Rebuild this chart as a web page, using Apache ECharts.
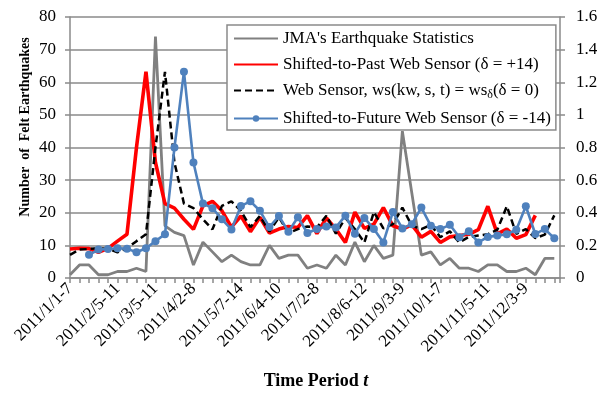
<!DOCTYPE html>
<html>
<head>
<meta charset="utf-8">
<script src="https://cdn.jsdelivr.net/npm/echarts@6/dist/echarts.min.js"></script>
<style>
html,body{margin:0;padding:0;background:#fff;}
#chart{width:607px;height:393px;}
</style>
</head>
<body>
<div id="chart"></div>
<script>
// Weekly periods of 2011
const categories = [
  "2011/1/1-7","2011/1/8-14","2011/1/15-21","2011/1/22-28","2011/1/29-2/4",
  "2011/2/5-11","2011/2/12-18","2011/2/19-25","2011/2/26-3/4",
  "2011/3/5-11","2011/3/12-18","2011/3/19-25","2011/3/26-4/1",
  "2011/4/2-8","2011/4/9-15","2011/4/16-22","2011/4/23-29","2011/4/30-5/6",
  "2011/5/7-14","2011/5/14-20","2011/5/21-27","2011/5/28-6/3",
  "2011/6/4-10","2011/6/11-17","2011/6/18-24","2011/6/25-7/1",
  "2011/7/2-8","2011/7/9-15","2011/7/16-22","2011/7/23-29","2011/7/30-8/5",
  "2011/8/6-12","2011/8/13-19","2011/8/20-26","2011/8/27-9/2",
  "2011/9/3-9","2011/9/10-16","2011/9/17-23","2011/9/24-30",
  "2011/10/1-7","2011/10/8-14","2011/10/15-21","2011/10/22-28","2011/10/29-11/4",
  "2011/11/5-11","2011/11/12-18","2011/11/19-25","2011/11/26-12/2",
  "2011/12/3-9","2011/12/10-16","2011/12/17-23","2011/12/24-30"
];
// categories whose label is printed on the axis
const labelledWeeks = [0,5,9,13,18,22,26,31,35,39,44,48];

// left axis: number of felt earthquakes (JMA)
const jma = [1,4,4,1,1,2,2,3,2,74, 16,14,13,4,11,8,5,7,5,4, 4,10,6,7,7,3,4,3,7,4,
             11,5,10,6,7,45,26,7,8,4, 6,3,3,2,4,4,2,2,3,1, 6,6];

// right axis: web sensor values
const webSensor = [0.142,0.174,0.178,0.182,0.180,0.158,0.182,0.226,0.268,0.800,
                   1.264,0.708,0.456,0.428,0.360,0.298,0.442,0.470,0.412,0.312,
                   0.380,0.284,0.372,0.276,0.300,0.316,0.310,0.382,0.272,0.368,
                   0.300,0.218,0.404,0.304,0.330,0.432,0.320,0.300,0.326,0.250,
                   0.286,0.218,0.252,0.260,0.268,0.296,0.440,0.270,0.300,0.244,
                   0.266,0.384];
const shiftedPast = [0.178,0.182,0.180,0.158,0.182,0.226,0.268,0.800,
                   1.264,0.708,0.456,0.428,0.360,0.298,0.442,0.470,0.412,0.312,
                   0.380,0.284,0.372,0.276,0.300,0.316,0.310,0.382,0.272,0.368,
                   0.300,0.218,0.404,0.304,0.330,0.432,0.320,0.300,0.326,0.250,
                   0.286,0.218,0.252,0.260,0.268,0.296,0.440,0.270,0.300,0.244,
                   0.266,0.384];
const shiftedFuture = [null,null,0.142,0.174,0.178,0.182,0.180,0.158,0.182,0.226,0.268,0.800,
                   1.264,0.708,0.456,0.428,0.360,0.298,0.442,0.470,0.412,0.312,
                   0.380,0.284,0.372,0.276,0.300,0.316,0.310,0.382,0.272,0.368,
                   0.300,0.218,0.404,0.304,0.330,0.432,0.320,0.300,0.326,0.250,
                   0.286,0.218,0.252,0.260,0.268,0.296,0.440,0.270,0.300,0.244];

const names = [
  "JMA's Earthquake Statistics",
  "Shifted-to-Past Web Sensor (\u03b4 = +14)",
  "Web Sensor, ws(kw, s, t) = ws_delta(\u03b4 = 0)",
  "Shifted-to-Future Web Sensor (\u03b4 = -14)"
];

const pairs = arr => arr.map((v, i) => [i, v]);
const FONT = '"Liberation Serif", "Times New Roman", serif';
const GRID = '#8a8a8a';

const chart = echarts.init(document.getElementById('chart'), null, {renderer: 'canvas'});
chart.setOption({
  animation: false,
  backgroundColor: '#fff',
  grid: {left: 70, right: 47, top: 17, bottom: 115},
  xAxis: {
    type: 'value', min: 0, max: 51.6, interval: 1,
    axisLine: {show: true, lineStyle: {color: GRID, width: 1.5}},
    axisTick: {show: true, length: 5, lineStyle: {color: GRID, width: 1.5}},
    splitLine: {show: false},
    axisLabel: {
      rotate: 45, margin: 8, color: '#000', fontFamily: FONT, fontSize: 17,
      showMinLabel: true, showMaxLabel: true,
      formatter: v => (Number.isInteger(v) && labelledWeeks.includes(v)) ? categories[v] : ''
    }
  },
  yAxis: [{
    type: 'value', min: 0, max: 80, interval: 10, position: 'left',
    axisLine: {show: true, lineStyle: {color: GRID, width: 1.5}},
    axisTick: {show: true, length: 5, lineStyle: {color: GRID, width: 1.5}},
    splitLine: {show: true, lineStyle: {color: GRID, width: 1.5}},
    axisLabel: {color: '#000', fontFamily: FONT, fontSize: 17, margin: 14}
  }, {
    type: 'value', min: 0, max: 1.6, interval: 0.2, position: 'right',
    axisLine: {show: true, lineStyle: {color: GRID, width: 1.5}},
    axisTick: {show: true, length: 5, lineStyle: {color: GRID, width: 1.5}},
    splitLine: {show: false},
    axisLabel: {color: '#000', fontFamily: FONT, fontSize: 17, margin: 16}
  }],
  legend: {
    data: [
      {name: names[0], itemStyle: {opacity: 0}},
      {name: names[1], itemStyle: {opacity: 0}},
      {name: names[2], itemStyle: {opacity: 0}},
      {name: names[3]}
    ],
    orient: 'vertical', left: 227, top: 25,
    itemWidth: 44, itemHeight: 8, itemGap: 9,
    padding: [5, 5, 3, 6],
    backgroundColor: '#fff', borderColor: GRID, borderWidth: 1.5,
    textStyle: {fontFamily: FONT, fontSize: 17, color: '#000',
      rich: {sub: {fontFamily: FONT, fontSize: 12, color: '#000', padding: [9, 0, 0, 0]}}},
    formatter: n => n.indexOf('ws_delta') >= 0
      ? 'Web Sensor, ws(kw, s, t) = ws{sub|\u03b4}(\u03b4 = 0)' : n
  },
  graphic: [{
    type: 'text', x: 25, y: 127, rotation: Math.PI / 2,
    style: {text: 'Number  of  Felt Earthquakes', font: 'bold 14px ' + FONT,
      fill: '#000', textAlign: 'center', textVerticalAlign: 'middle'}
  }, {
    type: 'text', x: 316, y: 381,
    style: {text: '{b|Time Period }{i|t}', textAlign: 'center', textVerticalAlign: 'middle',
      rich: {b: {font: 'bold 18px ' + FONT, fill: '#000'},
             i: {font: 'italic bold 18px ' + FONT, fill: '#000'}}}
  }],
  series: [{
    name: names[0], type: 'line', yAxisIndex: 0, data: pairs(jma),
    showSymbol: false, symbol: 'none', lineStyle: {color: '#808080', width: 2.8},
    itemStyle: {color: '#808080'}
  }, {
    name: names[1], type: 'line', yAxisIndex: 1, data: pairs(shiftedPast),
    showSymbol: false, symbol: 'none', lineStyle: {color: '#ff0000', width: 3.6},
    itemStyle: {color: '#ff0000'}
  }, {
    name: names[2], type: 'line', yAxisIndex: 1, data: pairs(webSensor),
    showSymbol: false, symbol: 'none', lineStyle: {color: '#000', width: 2.5, type: [7, 4]},
    itemStyle: {color: '#000'}
  }, {
    name: names[3], type: 'line', yAxisIndex: 1, data: pairs(shiftedFuture),
    symbol: 'circle', symbolSize: 8, showSymbol: true,
    lineStyle: {color: '#4f81bd', width: 2.6}, itemStyle: {color: '#4f81bd'}
  }]
});
</script>
</body>
</html>
